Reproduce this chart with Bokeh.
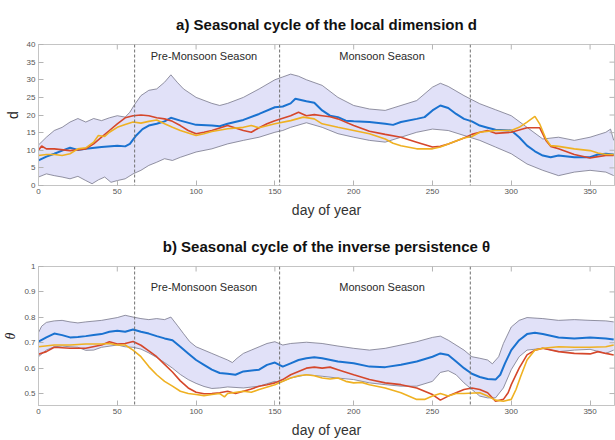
from bokeh.plotting import figure
from bokeh.layouts import column
from bokeh.models import Span, FixedTicker, ColumnDataSource
from bokeh.core.properties import value
from bokeh.embed import file_html
from bokeh.resources import INLINE

# ---------------- data: panel a (local dimension d) ----------------
d_upper_days = [0,5,10,15,20,25,30,35,40,45,50,55,58,61,65,70,75,80,84,88,92,100,110,115,120,130,140,150,155,160,165,170,180,190,200,210,220,230,240,250,255,260,270,280,290,300,310,320,330,340,350,360,363,365]
d_upper = [11.5,13.7,15.6,16.5,18.0,19.0,18.0,19.0,18.4,19.2,19.8,19.4,20.8,23.0,25.5,27.0,27.4,29.3,31.4,29.3,27.4,25.0,23.3,22.7,23.3,25.0,27.4,30.0,30.8,31.6,31.0,30.0,28.4,25.0,22.7,21.7,21.3,22.7,24.1,27.9,29.0,28.1,25.5,23.2,21.5,19.8,16.5,13.2,13.7,12.8,13.7,15.1,16.0,12.8]

d_lower_days = [0,5,10,15,20,25,30,34,38,42,46,50,55,60,65,70,75,80,85,90,100,110,120,130,140,150,155,160,170,180,190,200,210,220,230,240,250,260,270,280,290,300,310,320,330,340,350,360,365]
d_lower = [2.4,3.3,2.8,2.4,1.9,2.6,1.4,0.5,1.6,2.4,0.9,1.4,1.9,3.3,4.3,5.7,6.6,7.6,7.1,8.0,9.5,10.4,11.8,12.8,13.7,15.1,15.6,16.5,17.8,16.5,14.7,13.7,12.8,12.3,13.7,15.1,16.0,15.6,14.2,12.8,10.9,9.0,6.1,4.3,2.8,3.8,4.3,3.8,2.8]

d_blue_days = [0,5,10,15,20,25,30,40,50,55,58,62,66,70,75,80,84,90,100,110,115,120,130,140,150,155,160,163,170,175,180,185,190,195,200,210,220,225,230,240,245,250,255,260,265,270,275,280,285,290,300,305,310,315,320,325,330,340,350,355,360,365]
d_blue = [7.1,8.2,9.0,9.9,10.7,10.1,10.4,10.9,11.3,11.1,11.8,14.2,16.0,17.0,17.5,18.2,19.2,18.4,17.2,17.0,16.8,17.5,18.6,20.3,22.2,22.4,23.3,24.6,23.9,23.5,21.3,19.8,19.4,18.4,18.2,18.0,17.5,17.2,18.0,18.9,19.4,21.3,22.7,22.0,20.3,18.9,18.2,17.0,16.4,15.8,15.6,13.7,11.3,9.7,8.5,8.0,8.5,8.0,8.0,8.8,9.0,8.8]

d_red_days = [0,2,5,10,20,30,35,40,45,50,55,60,65,70,75,80,85,90,95,100,105,110,120,130,135,140,145,150,160,165,170,175,180,185,190,200,210,220,230,240,250,255,260,270,275,280,285,290,300,310,318,322,325,330,340,350,355,360,365]
d_red = [10.0,11.2,10.4,10.4,9.9,10.4,11.8,13.7,15.6,17.5,19.2,19.8,20.0,19.8,19.2,18.9,18.2,17.0,15.6,14.7,15.1,15.6,17.0,15.6,15.1,16.4,17.5,18.4,19.8,20.8,19.8,20.1,19.8,19.5,18.9,17.0,15.4,14.5,13.7,12.3,10.9,11.1,11.8,13.5,14.5,15.1,15.6,14.8,15.1,16.4,16.4,12.8,11.1,10.4,8.8,7.8,8.2,8.5,8.5]

d_yel_days = [0,5,10,15,20,25,30,35,38,42,45,50,55,60,65,70,75,80,85,90,95,100,105,110,120,130,135,140,150,160,168,175,180,190,200,210,220,225,230,240,250,255,260,270,275,280,290,300,305,310,315,318,322,325,330,340,350,355,360,365]
d_yel = [8.5,8.8,8.8,8.5,9.0,10.4,10.7,12.3,14.2,13.9,15.1,16.5,17.3,18.0,17.7,18.2,18.6,17.5,16.5,15.6,14.9,14.2,14.7,15.3,16.1,16.5,17.0,16.4,17.5,18.4,19.4,18.9,17.5,16.5,15.6,14.7,13.2,12.0,11.3,10.4,10.4,10.9,11.8,13.5,13.9,15.1,15.6,15.6,16.5,18.0,19.6,17.5,13.2,11.3,11.1,10.4,9.9,9.2,8.8,8.8]

# ---------------- data: panel b (inverse persistence theta) ----------------
t_upper_days = [0,2,5,10,15,20,25,30,40,50,55,60,65,70,75,80,84,88,92,96,100,105,110,115,120,123,126,130,135,140,145,150,155,160,170,180,190,200,210,220,230,240,250,255,260,270,275,280,285,288,292,295,300,305,310,320,330,340,350,360,365]
t_upper = [0.74,0.765,0.78,0.786,0.788,0.782,0.778,0.782,0.788,0.799,0.808,0.801,0.795,0.791,0.795,0.791,0.801,0.769,0.736,0.704,0.684,0.671,0.658,0.645,0.632,0.622,0.639,0.658,0.671,0.684,0.697,0.704,0.691,0.697,0.702,0.697,0.687,0.678,0.671,0.678,0.691,0.704,0.721,0.726,0.71,0.671,0.645,0.639,0.632,0.617,0.645,0.697,0.762,0.788,0.799,0.795,0.788,0.791,0.788,0.786,0.782]

t_lower_days = [0,5,10,15,20,25,30,35,40,50,55,60,65,70,75,80,85,90,95,100,105,110,115,120,130,140,150,153,160,170,180,190,200,210,220,230,240,250,255,260,265,270,275,280,285,290,295,300,305,310,320,330,340,350,360,365]
t_lower = [0.645,0.671,0.684,0.687,0.684,0.682,0.670,0.671,0.682,0.691,0.684,0.682,0.675,0.660,0.642,0.622,0.600,0.575,0.555,0.540,0.528,0.520,0.522,0.526,0.522,0.529,0.548,0.542,0.561,0.574,0.568,0.561,0.555,0.542,0.535,0.529,0.529,0.548,0.583,0.590,0.574,0.542,0.516,0.490,0.483,0.483,0.522,0.594,0.645,0.671,0.678,0.665,0.671,0.674,0.658,0.671]

t_blue_days = [0,5,10,15,20,25,30,35,40,45,50,55,60,65,70,75,80,85,90,95,100,105,110,115,120,125,130,140,145,150,155,160,165,170,175,180,190,200,210,220,230,240,250,255,260,265,270,275,280,285,290,293,296,300,305,310,315,320,330,340,350,360,365]
t_blue = [0.704,0.721,0.736,0.730,0.721,0.723,0.726,0.730,0.734,0.743,0.747,0.743,0.752,0.743,0.736,0.726,0.717,0.710,0.684,0.658,0.632,0.613,0.594,0.581,0.578,0.574,0.587,0.594,0.613,0.622,0.606,0.619,0.632,0.639,0.643,0.639,0.626,0.619,0.606,0.604,0.613,0.626,0.645,0.658,0.652,0.626,0.600,0.578,0.565,0.557,0.555,0.574,0.619,0.671,0.710,0.734,0.739,0.734,0.721,0.717,0.721,0.717,0.713]

t_red_days = [0,5,10,20,30,40,45,50,55,60,65,70,75,80,85,90,95,100,105,110,115,120,125,130,135,140,145,150,155,160,165,170,175,180,185,190,200,210,220,230,240,250,255,260,265,270,275,280,285,290,295,298,300,305,310,315,320,330,340,350,355,360,365]
t_red = [0.655,0.665,0.682,0.678,0.678,0.691,0.704,0.695,0.697,0.705,0.690,0.668,0.645,0.615,0.585,0.550,0.522,0.505,0.499,0.500,0.503,0.509,0.500,0.509,0.518,0.529,0.535,0.542,0.555,0.574,0.587,0.600,0.604,0.600,0.604,0.594,0.574,0.555,0.542,0.535,0.522,0.496,0.474,0.490,0.503,0.516,0.522,0.516,0.503,0.470,0.477,0.503,0.535,0.600,0.652,0.671,0.678,0.665,0.658,0.656,0.665,0.658,0.652]

t_yel_days = [0,10,20,30,40,45,50,55,60,65,70,75,80,85,90,95,100,105,110,115,118,120,130,135,140,150,155,160,165,170,175,180,185,190,195,200,205,210,220,230,240,245,250,255,260,265,270,280,285,290,295,300,303,306,310,315,320,330,340,350,360,365]
t_yel = [0.684,0.691,0.691,0.695,0.695,0.697,0.691,0.691,0.671,0.645,0.606,0.574,0.548,0.529,0.509,0.500,0.496,0.492,0.496,0.500,0.487,0.500,0.509,0.505,0.516,0.535,0.548,0.561,0.570,0.574,0.570,0.561,0.557,0.561,0.548,0.542,0.544,0.535,0.522,0.503,0.477,0.477,0.490,0.500,0.490,0.500,0.500,0.503,0.490,0.474,0.470,0.477,0.516,0.568,0.632,0.671,0.678,0.684,0.682,0.682,0.684,0.691]

# ---------------- labels ----------------
season_boundaries = [61, 153, 274]
season_labels = ["Pre-Monsoon Season", "Monsoon Season"]
season_x = [105, 218]
season_y_a = [36.6, 36.6]
season_y_b = [0.92, 0.92]
x_ticks = [0, 50, 100, 150, 200, 250, 300, 350]
d_ticks = [0, 5, 10, 15, 20, 25, 30, 35, 40]
t_ticks = [0.5, 0.6, 0.7, 0.8, 0.9, 1.0]
X_RANGE = (0, 365.5)

BLUE = "#1a72d0"
RED = "#d5472b"
YEL = "#efb122"
BAND_FILL = "#e1e1f8"
BAND_LINE = "#77778a"
TICK = "#b4b4b4"
FONT = "Liberation Sans"


def make_panel(title, ylabel, yrange, yticks, upper_days, upper, lower_days, lower,
               series, label_y, ylabel_font, ylabel_style, top_border, bottom_border):
    p = figure(width=615, height=220, x_range=X_RANGE, y_range=yrange,
               output_backend="svg", toolbar_location=None,
               min_border_left=28, min_border_right=1,
               min_border_top=top_border, min_border_bottom=bottom_border)
    p.title.text = title
    p.title.align = "center"
    p.title.text_font = FONT
    p.title.text_font_size = "15px"
    p.title.text_font_style = "bold"
    p.title.text_color = "#111111"
    p.title.standoff = 24
    p.grid.visible = False
    p.background_fill_color = "white"
    p.border_fill_color = "white"
    p.outline_line_color = "#c4c4c4"
    p.outline_line_width = 1

    # band
    bx = list(upper_days) + list(reversed(lower_days))
    by = list(upper) + list(reversed(lower))
    p.patch(bx, by, fill_color=BAND_FILL, fill_alpha=1.0, line_color=None)
    p.line(upper_days, upper, line_color=BAND_LINE, line_width=0.8)
    p.line(lower_days, lower, line_color=BAND_LINE, line_width=0.8)

    for loc in season_boundaries:
        p.add_layout(Span(location=loc, dimension="height", line_color="#707070",
                          line_dash="3 2", line_width=1))

    for days, vals, col, w in series:
        p.line(days, vals, line_color=col, line_width=w)

    src = ColumnDataSource(dict(x=season_x, y=label_y, t=season_labels))
    p.text(x="x", y="y", text="t", source=src, text_align="center",
           text_baseline="middle", text_font=value(FONT), text_font_size="11px",
           text_color="#2a2a2a")

    # mirrored inward ticks on top and right edges (half of each dash is clipped)
    p.scatter(x=x_ticks, y=[yrange[1]] * len(x_ticks), marker="dash", angle=1.5708,
              size=10, line_color=TICK, line_width=1)
    p.scatter(x=[X_RANGE[1]] * len(yticks), y=yticks, marker="dash",
              size=10, line_color=TICK, line_width=1)

    # axes
    xa = p.xaxis[0]
    xa.ticker = FixedTicker(ticks=x_ticks)
    xa.axis_label = "day of year"
    xa.axis_label_text_font = FONT
    xa.axis_label_text_font_size = "14px"
    xa.axis_label_text_font_style = "normal"
    xa.axis_label_text_color = "#333333"
    xa.axis_label_standoff = 5

    ya = p.yaxis[0]
    ya.ticker = FixedTicker(ticks=yticks)
    ya.axis_label = ylabel
    ya.axis_label_text_font = ylabel_font
    ya.axis_label_text_font_size = "14px"
    ya.axis_label_text_font_style = ylabel_style
    ya.axis_label_text_color = "#222222"
    ya.axis_label_standoff = 3
    ya.major_label_overrides = {1: "1"}

    for ax in (xa, ya):
        ax.axis_line_color = "#c4c4c4"
        ax.major_tick_in = 5
        ax.major_tick_out = 0
        ax.major_tick_line_color = TICK
        ax.minor_tick_line_color = None
        ax.major_label_text_font = FONT
        ax.major_label_text_font_size = "8px"
        ax.major_label_text_color = "#555555"
        ax.major_label_standoff = 3
    return p


p1 = make_panel("a) Seasonal cycle of the local dimension d", "d", (0, 40), d_ticks,
                d_upper_days, d_upper, d_lower_days, d_lower,
                [(d_blue_days, d_blue, BLUE, 2.0),
                 (d_red_days, d_red, RED, 1.6),
                 (d_yel_days, d_yel, YEL, 1.6)],
                season_y_a, FONT, "normal", 44, 35)

p2 = make_panel("b) Seasonal cycle of the inverse persistence θ", "θ", (0.453, 1.0), t_ticks,
                t_upper_days, t_upper, t_lower_days, t_lower,
                [(t_blue_days, t_blue, BLUE, 2.0),
                 (t_red_days, t_red, RED, 1.6),
                 (t_yel_days, t_yel, YEL, 1.6)],
                season_y_b, "Liberation Serif", "italic", 46, 34)

layout = column(p1, p2, spacing=0)
open("out.html", "w").write(file_html(layout, INLINE))
